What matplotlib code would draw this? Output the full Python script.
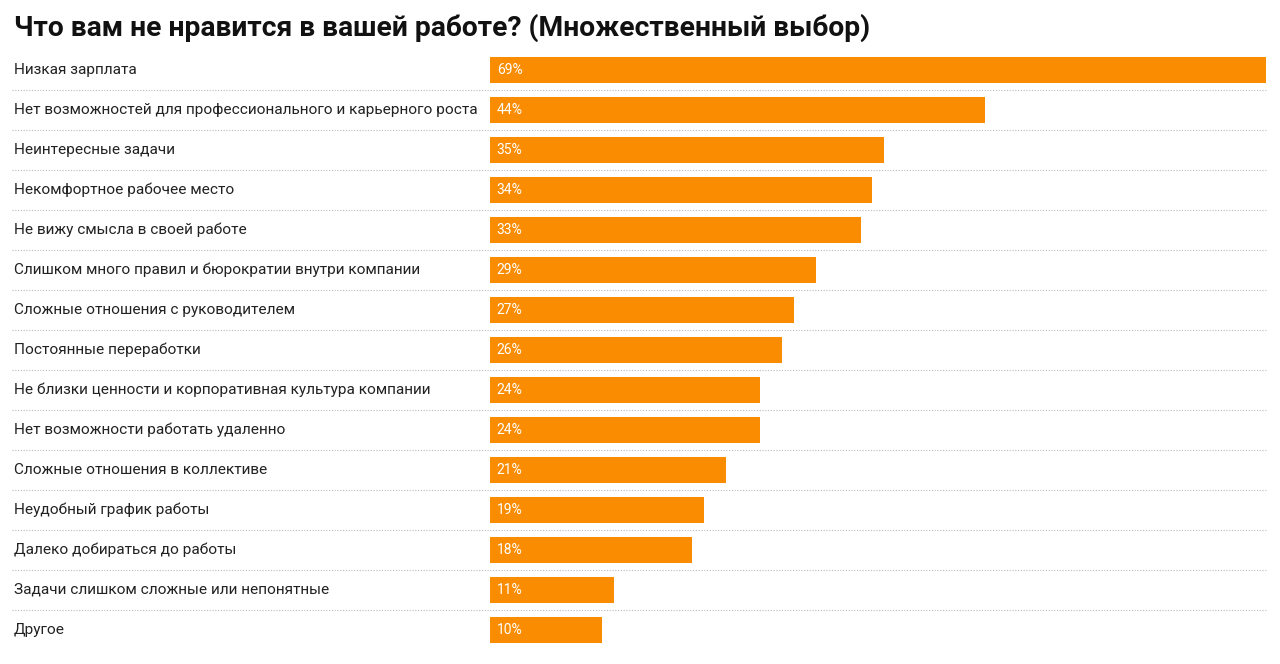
import matplotlib.pyplot as plt
from matplotlib.transforms import blended_transform_factory

plt.rcParams['font.family'] = ['Roboto', 'DejaVu Sans']

categories = [
    'Низкая зарплата',
    'Нет возможностей для профессионального и карьерного роста',
    'Неинтересные задачи',
    'Некомфортное рабочее место',
    'Не вижу смысла в своей работе',
    'Слишком много правил и бюрократии внутри компании',
    'Сложные отношения с руководителем',
    'Постоянные переработки',
    'Не близки ценности и корпоративная культура компании',
    'Нет возможности работать удаленно',
    'Сложные отношения в коллективе',
    'Неудобный график работы',
    'Далеко добираться до работы',
    'Задачи слишком сложные или непонятные',
    'Другое',
]
values = [69, 44, 35, 34, 33, 29, 27, 26, 24, 24, 21, 19, 18, 11, 10]

W, H = 1280, 664
fig = plt.figure(figsize=(W / 100, H / 100), dpi=100)
ax = fig.add_axes([490 / W, 1 - 650 / H, (1266 - 490) / W, (650 - 50) / H])

ypos = list(range(len(categories)))
ax.barh(ypos, values, height=0.65, color='#F98C00')
ax.set_xlim(0, 69)
ax.set_ylim(len(categories) - 0.5, -0.5)
ax.axis('off')

trans = blended_transform_factory(fig.transFigure, ax.transData)
for i, (cat, val) in enumerate(zip(categories, values)):
    ax.text(14 / W, i, cat, transform=trans, ha='left', va='center',
            fontsize=11.05, color='#222222')
    ax.text(0.6, i, f'{val}%', ha='left', va='center', fontsize=10, color='white')
    if i < len(categories) - 1:
        ax.plot([12 / W, 1266 / W], [i + 0.5, i + 0.5], transform=trans,
                color='#bbbbbb', linestyle=(0, (1, 1.5)), linewidth=0.8, clip_on=False)

fig.text(14 / W, 1 - 28 / H, 'Что вам не нравится в вашей работе? (Множественный выбор)',
         fontsize=20.3, fontweight='bold', ha='left', va='center', color='#111111')

fig.savefig('out.png', dpi=100, facecolor='white')
